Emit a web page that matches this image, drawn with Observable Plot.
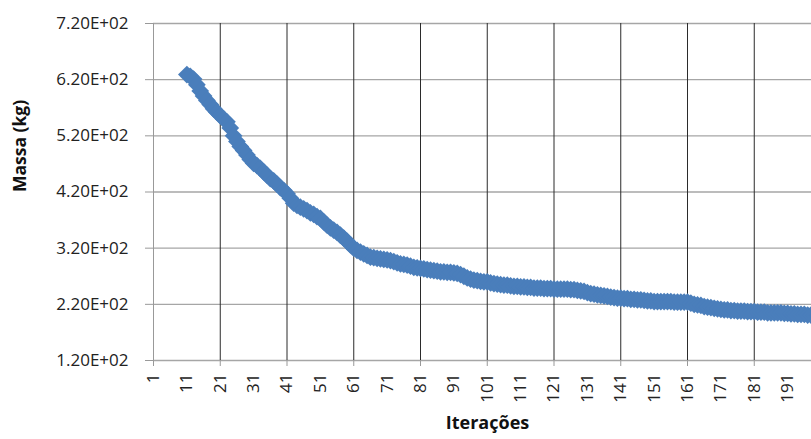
<!DOCTYPE html>
<html>
<head>
<meta charset="utf-8">
<script src="https://cdn.jsdelivr.net/npm/d3@7"></script>
<script src="https://cdn.jsdelivr.net/npm/@observablehq/plot@0.6"></script>
<style>
  html, body { margin: 0; padding: 0; background: #fff; }
  svg { display: block; }
</style>
</head>
<body>
<div id="chart"></div>
<script>
// Iteration number of the first plotted point
const firstIteration = 11;

// Massa (kg) for each iteration, starting at firstIteration
const massa = [
  629, 626, 621, 611, 600, 591, 583, 576, 568, 562,          // 11-20
  556, 550, 545, 534, 520, 510, 501, 494, 486, 478,          // 21-30
  471, 467, 462, 456, 450, 444, 440, 434, 428, 423,          // 31-40
  417, 409, 400, 396, 393, 390, 387, 383, 380, 376,          // 41-50
  373, 367, 361, 356, 352, 348, 343, 338, 332, 326,          // 51-60
  320, 316, 313, 310, 307, 304, 303, 302, 301, 300,          // 61-70
  299, 298, 296, 294, 292, 291, 290, 288, 286, 285,          // 71-80
  284, 283, 282, 281, 280, 279, 278, 278, 277, 277,          // 81-90
  276, 275, 273, 270, 267, 265, 263, 262, 261, 260,          // 91-100
  260, 258, 257, 256, 255, 254, 254, 253, 252, 252,          // 101-110
  251, 251, 250, 250, 249, 249, 249, 248, 248, 248,          // 111-120
  247, 247, 247, 247, 247, 246, 246, 245, 244, 243,          // 121-130
  241, 239, 238, 237, 236, 235, 234, 233, 232, 231,          // 131-140
  231, 230, 230, 229, 229, 228, 228, 227, 226, 226,          // 141-150
  225, 225, 225, 225, 225, 225, 224, 224, 224, 224,          // 151-160
  224, 222, 220, 219, 218, 216, 215, 214, 213, 212,          // 161-170
  211, 210, 210, 209, 209, 208, 208, 208, 207, 207,          // 171-180
  207, 206, 206, 206, 205, 205, 205, 205, 205, 204,          // 181-190
  204, 203, 203, 202, 202, 202, 201, 201, 200, 200           // 191-200
];

const yTicks = [120, 220, 320, 420, 520, 620, 720];
const xLabelTicks = [1, 11, 21, 31, 41, 51, 61, 71, 81, 91, 101, 111, 121, 131, 141, 151, 161, 171, 181, 191];
const xMajorTicks = [1, 21, 41, 61, 81, 101, 121, 141, 161, 181];
const xGridTicks = [21, 41, 61, 81, 101, 121, 141, 161, 181];
const yTitle = "Massa (kg)";
const xTitle = "Iterações";

const data = massa.map((m, i) => ({iteracao: firstIteration + i, massa: m}));

const chart = Plot.plot({
  width: 811,
  height: 439,
  marginLeft: 153,
  marginRight: 0,
  marginTop: 23,
  marginBottom: 79,
  style: {fontFamily: "'Open Sans', 'Liberation Sans', sans-serif", fontSize: "17px", color: "#222", background: "#fff", overflow: "visible"},
  x: {domain: [1, 198.15]},
  y: {domain: [120, 720]},
  marks: [
    Plot.gridY(yTicks, {stroke: "#a6a6a6", strokeOpacity: 1, strokeWidth: 1.3}),
    Plot.gridX(xGridTicks, {stroke: "#2b2b2b", strokeOpacity: 1, strokeWidth: 1}),
    Plot.axisY({ticks: yTicks, tickSize: 8, tickPadding: 17, stroke: "#999", label: null,
      tickFormat: d => (d / 100).toFixed(2) + "E+02"}),
    Plot.axisX({ticks: xMajorTicks, tickSize: 6, stroke: "#999", label: null, tickFormat: () => ""}),
    Plot.axisX({ticks: xLabelTicks, tickSize: 0, tickPadding: 13, tickRotate: -90, label: null}),
    Plot.ruleX([1], {stroke: "#999"}),
    Plot.dot(data, {x: "iteracao", y: "massa", symbol: "diamond2", r: 8, fill: "#4a7ebb", clip: true}),
    Plot.text([yTitle], {frameAnchor: "left", dx: -133, rotate: -90, fontWeight: "bold", fontSize: 17.5, fill: "#111"}),
    Plot.text([xTitle], {frameAnchor: "bottom", dx: 5, dy: 68, fontWeight: "bold", fontSize: 18, fill: "#111"})
  ]
});

document.getElementById("chart").appendChild(chart);
</script>
</body>
</html>
